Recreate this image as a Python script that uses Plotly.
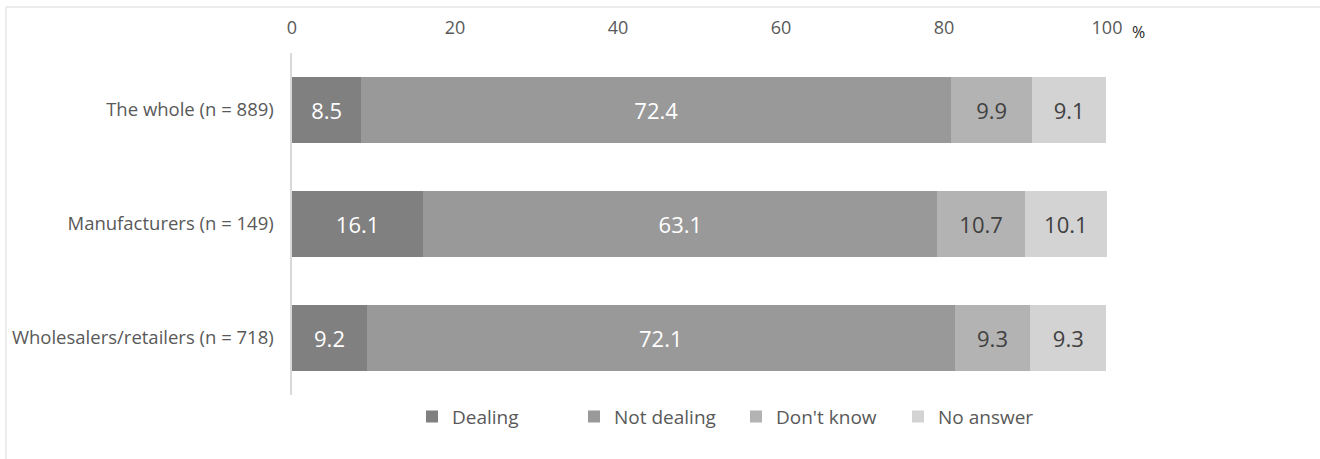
import plotly.graph_objects as go

categories = ["The whole (n = 889)", "Manufacturers (n = 149)", "Wholesalers/retailers (n = 718)"]
dealing = [8.5, 16.1, 9.2]
not_dealing = [72.4, 63.1, 72.1]
dont_know = [9.9, 10.7, 9.3]
no_answer = [9.1, 10.1, 9.3]
x_ticks = [0, 20, 40, 60, 80, 100]

series = [
    ("Dealing", dealing, "#808080", "white"),
    ("Not dealing", not_dealing, "#999999", "white"),
    ("Don't know", dont_know, "#b3b3b3", "#404040"),
    ("No answer", no_answer, "#d3d3d3", "#404040"),
]

FONT = "Open Sans, Noto Sans, sans-serif"
fig = go.Figure()
for name, vals, col, tcol in series:
    fig.add_trace(go.Bar(
        y=categories, x=vals, name=name, orientation="h",
        marker=dict(color=col, line=dict(width=0)),
        text=[f"{v:.1f}" for v in vals], textposition="inside",
        insidetextanchor="middle",
        textfont=dict(color=tcol, size=22, family=FONT),
        width=0.58,
    ))

W, H = 1320, 459
L, R, T, B = 292, 1107, 53, 395
pw, ph = R - L, B - T
def px(x): return (x - L) / pw
def py(y): return (B - y) / ph

fig.update_layout(
    width=W, height=H, barmode="stack",
    margin=dict(l=L, r=W - R, t=T, b=H - B, pad=0),
    paper_bgcolor="white", plot_bgcolor="white",
    font=dict(family=FONT, color="#595959", size=18),
    showlegend=True,
    legend=dict(orientation="h", x=px(412), xanchor="left", y=-0.008, yanchor="top",
                font=dict(size=19, color="#595959"), traceorder="normal",
                itemwidth=30, entrywidth=117, entrywidthmode="pixels"),
    xaxis=dict(side="top", range=[0, 100], tickvals=x_ticks, showgrid=False,
               zeroline=False, showline=False, ticks="", ticklabelstandoff=14,
               tickfont=dict(size=18, color="#595959")),
    yaxis=dict(autorange="reversed", showgrid=False, zeroline=False, showline=True,
               linecolor="#d9d9d9", linewidth=1.5, ticks="", ticksuffix=" ",
               ticklabelstandoff=8,
               tickfont=dict(size=18.5, color="#595959")),
)
fig.add_shape(type="rect", xref="paper", yref="paper",
              x0=px(6), x1=px(1330), y0=py(470), y1=py(7),
              line=dict(color="#d9d9d9", width=1), layer="below")
fig.add_annotation(text="%", xref="paper", yref="paper", x=px(1130), y=py(32),
                   xanchor="left", yanchor="middle", showarrow=False,
                   font=dict(size=16, color="#262626", family=FONT))
fig.write_html("out.html")
